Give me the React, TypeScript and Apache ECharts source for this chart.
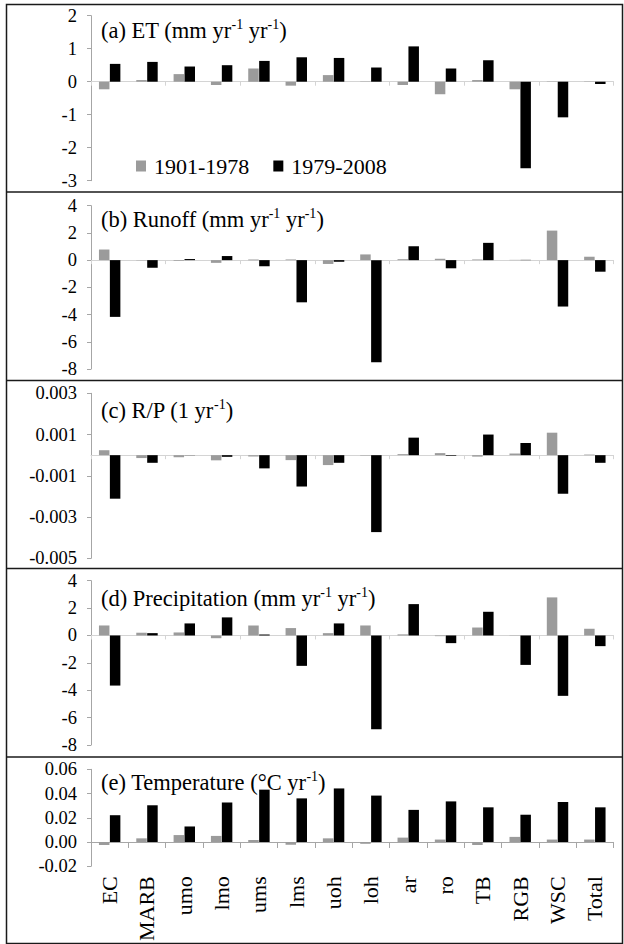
import React, { useEffect, useRef } from "react";
import * as echarts from "echarts";

const categories = ["EC", "MARB", "umo", "lmo", "ums", "lms", "uoh", "loh", "ar", "ro", "TB", "RGB", "WSC", "Total"];
const seriesNames = ["1901-1978", "1979-2008"];

const etEarly = [-0.23, 0.05, 0.23, -0.1, 0.4, -0.12, 0.2, 0.01, -0.1, -0.38, 0.05, -0.23, 0.01, 0.01];
const etLate = [0.54, 0.6, 0.46, 0.5, 0.63, 0.74, 0.72, 0.43, 1.07, 0.4, 0.65, -2.62, -1.08, -0.07];

const runoffEarly = [0.78, -0.02, -0.05, -0.2, 0.05, 0.05, -0.28, 0.42, 0.07, 0.1, 0.05, 0.02, 2.17, 0.25];
const runoffLate = [-4.17, -0.56, 0.08, 0.3, -0.45, -3.1, -0.12, -7.5, 1.02, -0.6, 1.27, 0.02, -3.41, -0.85];

const rpEarly = [0.00024, -0.00014, -0.0001, -0.00025, -0.00007, -0.00024, -0.00048, -0.00002, 0.00005, 0.0001, -0.00007, 0.00008, 0.00109, 0.00003];
const rpLate = [-0.00211, -0.00037, 0.00001, -0.00008, -0.00064, -0.00152, -0.00037, -0.00373, 0.00085, -0.00003, 0.001, 0.00059, -0.00187, -0.00037];

const precEarly = [0.73, 0.2, 0.22, -0.2, 0.73, 0.54, 0.17, 0.73, 0.08, -0.05, 0.58, -0.02, 2.78, 0.49];
const precLate = [-3.66, 0.17, 0.88, 1.32, 0.07, -2.22, 0.88, -6.85, 2.29, -0.56, 1.73, -2.15, -4.41, -0.78];

const tempEarly = [-0.0025, 0.003, 0.0057, 0.005, 0.0017, -0.0023, 0.003, -0.0015, 0.0036, 0.002, -0.0025, 0.0042, 0.002, 0.002];
const tempLate = [0.0221, 0.0303, 0.0128, 0.0326, 0.0432, 0.036, 0.0442, 0.0383, 0.0265, 0.0335, 0.0286, 0.0225, 0.033, 0.0286];

const panelTitles = [
  ["(a) ET (mm yr", "-1", " yr", "-1", ")"],
  ["(b) Runoff (mm yr", "-1", " yr", "-1", ")"],
  ["(c) R/P (1 yr", "-1", ")"],
  ["(d) Precipitation (mm yr", "-1", " yr", "-1", ")"],
  ["(e) Temperature (°C yr", "-1", ")"],
];

const yMins = [-3, -8, -0.005, -8, -0.02];
const yMaxs = [2, 4, 0.003, 4, 0.06];
const yIntervals = [1, 2, 0.002, 2, 0.02];
const yDecimals = [0, 0, 3, 0, 2];

const FONT = "Liberation Serif";
const GRAY = "#9b9b9b";
const AXIS = "#a6a6a6";

const gridTops = [15.7, 205.7, 393.3, 580.7, 769.3];
const gridHeights = [165, 163.3, 165, 164.3, 125.7];
const titleTops = [17, 206, 397, 585, 769];

export default function App() {
  const ref = useRef<HTMLDivElement>(null);
  useEffect(() => {
    if (!ref.current) return;
    const chart = echarts.init(ref.current, null, { renderer: "svg" });
    const early = [etEarly, runoffEarly, rpEarly, precEarly, tempEarly];
    const late = [etLate, runoffLate, rpLate, precLate, tempLate];

    const grids = gridTops.map((t, i) => ({ left: 91, width: 522.5, top: t, height: gridHeights[i] }));
    const xAxes = gridTops.map((_, i) => {
      const last = i === 4;
      return {
        type: "category",
        gridIndex: i,
        data: categories,
        axisLine: { onZero: true, lineStyle: { color: last ? AXIS : "#d4d4d4", width: 1 } },
        axisTick: { show: true, length: last ? 6 : 4, lineStyle: { color: last ? AXIS : "#d4d4d4" } },
        axisLabel: last
          ? { show: true, rotate: 90, fontSize: 22, color: "#000", fontFamily: FONT, margin: 10, interval: 0 }
          : { show: false },
        splitLine: { show: false },
      };
    });
    const yAxes = gridTops.map((_, i) => ({
      type: "value",
      gridIndex: i,
      min: yMins[i],
      max: yMaxs[i],
      interval: yIntervals[i],
      axisLine: { show: true, lineStyle: { color: AXIS, width: 1 } },
      axisTick: { show: true, length: 4, lineStyle: { color: AXIS } },
      splitLine: { show: false },
      axisLabel: {
        fontSize: 18.5,
        color: "#000",
        fontFamily: FONT,
        margin: 14,
        formatter: (v: number) => {
          const r = Math.round(v / yIntervals[i]) * yIntervals[i];
          const val = Math.abs(v - r) < 1e-12 ? r : v;
          let s = val.toFixed(yDecimals[i]);
          if (/^-0(\.0+)?$/.test(s)) s = s.slice(1);
          return s;
        },
      },
    }));
    const series: any[] = [];
    for (let i = 0; i < 5; i++) {
      series.push({
        name: seriesNames[0],
        type: "bar",
        xAxisIndex: i,
        yAxisIndex: i,
        data: early[i],
        barWidth: 10.5,
        barGap: "4%",
        itemStyle: { color: GRAY },
      });
      series.push({
        name: seriesNames[1],
        type: "bar",
        xAxisIndex: i,
        yAxisIndex: i,
        data: late[i],
        barWidth: 10.5,
        barGap: "4%",
        itemStyle: { color: "#000" },
      });
    }
    const titles = panelTitles.map((parts, i) => ({
      left: 101,
      top: titleTops[i],
      padding: 0,
      text: parts.map((p, k) => (k % 2 === 1 ? `{s|${p}}` : `{a|${p}}`)).join(""),
      textStyle: {
        fontWeight: "normal",
        fontFamily: FONT,
        rich: {
          a: { fontSize: 22.5, fontFamily: FONT, fontWeight: "normal", color: "#000", lineHeight: 26 },
          s: { fontSize: 14, fontFamily: FONT, fontWeight: "normal", color: "#000", lineHeight: 14, verticalAlign: "top" },
        },
      },
    }));
    const lineY = [192, 380.5, 568.5, 757];
    chart.setOption({
      animation: false,
      backgroundColor: "#fff",
      title: titles,
      legend: {
        show: true,
        data: seriesNames,
        left: 131,
        top: 150,
        icon: "rect",
        itemWidth: 10,
        itemHeight: 11,
        itemGap: 24,
        textStyle: { fontSize: 22, fontFamily: FONT, color: "#000", padding: [0, 0, 0, 3] },
      },
      grid: grids,
      xAxis: xAxes,
      yAxis: yAxes,
      series,
      graphic: [
        {
          type: "rect",
          shape: { x: 6.5, y: 4.5, width: 616, height: 939 },
          style: { fill: "none", stroke: "#1a1a1a", lineWidth: 1.5 },
          silent: true,
        },
        ...lineY.map((y) => ({
          type: "line",
          shape: { x1: 6.5, y1: y, x2: 622.5, y2: y },
          style: { stroke: "#1a1a1a", lineWidth: 1.5 },
          silent: true,
        })),
      ],
    });
    return () => chart.dispose();
  }, []);
  return (
    <div
      ref={ref}
      style={{ position: "fixed", left: 0, top: 0, width: 624, height: 944, background: "#fff" }}
    />
  );
}
